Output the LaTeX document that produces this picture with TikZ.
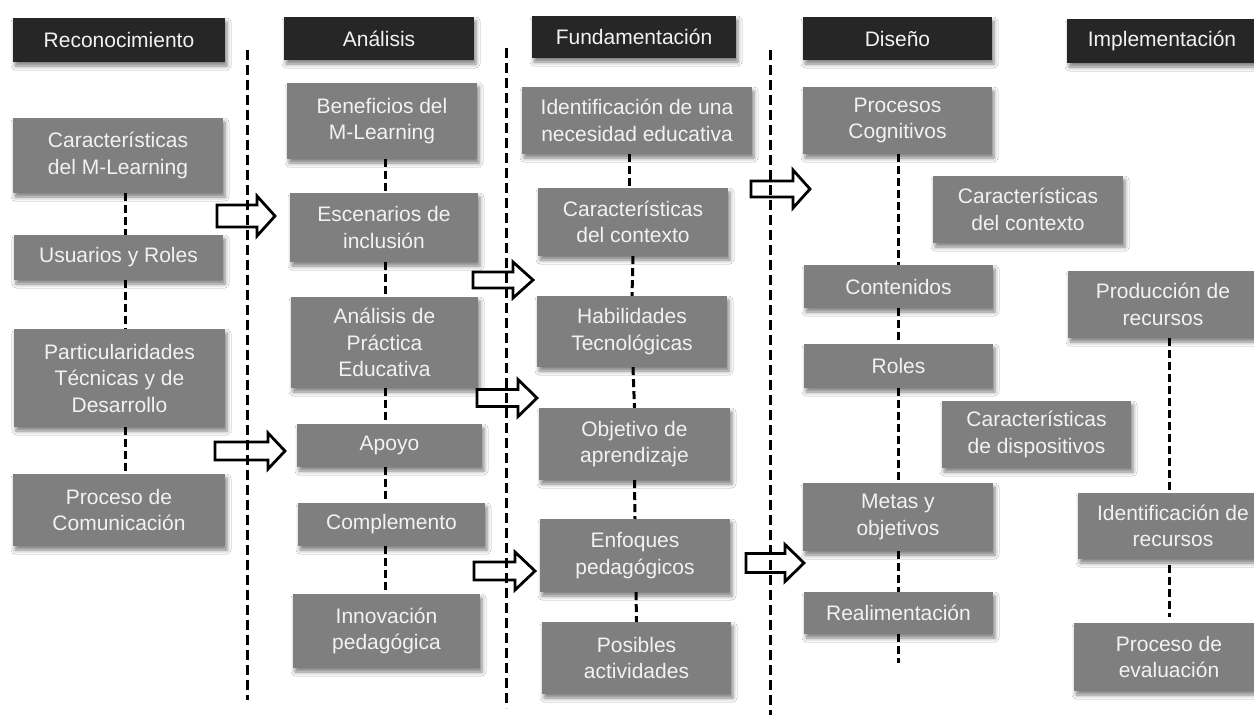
\documentclass[tikz,border=0pt]{standalone}
\usepackage{fontspec}
\setmainfont{Liberation Sans}
\usetikzlibrary{shadows.blur}
\definecolor{boxgray}{HTML}{7F7F7F}
\definecolor{headdark}{HTML}{262626}
\definecolor{txtlight}{HTML}{F2F2F2}
\newcommand\myarrow[6]{%
  \draw[blockarr] (#1,{#4-#5}) -- (#2,{#4-#5}) -- (#2,{#4-#6}) -- (#3,#4) -- (#2,{#4+#6}) -- (#2,{#4+#5}) -- (#1,{#4+#5}) -- cycle;}
\tikzset{
  base/.style={inner sep=0pt, align=center, text=txtlight,
    font=\fontsize{21}{26.5}\selectfont,
    blur shadow={shadow xshift=2pt, shadow yshift=-4pt, shadow blur radius=4pt, shadow opacity=50}},
  headbox/.style={base, fill=headdark},
  graybox/.style={base, fill=boxgray},
  conn/.style={draw=black, line width=3pt, dash pattern=on 8pt off 4pt},
  divider/.style={draw=black, line width=3pt, dash pattern=on 10pt off 5pt},
  blockarr/.style={draw=black, line width=2.8pt, fill=white, line join=miter}
}
\begin{document}
\begin{tikzpicture}[x=1pt,y=-1pt]
\useasboundingbox[fill=white] (0,0) rectangle (1254,715);
% headers
\node[headbox, minimum width=212, minimum height=44] (h1) at (119,40) {Reconocimiento};
\node[headbox, minimum width=190, minimum height=43] (h2) at (379,38.5) {Análisis};
\node[headbox, minimum width=204, minimum height=42] (h3) at (634,37) {Fundamentación};
\node[headbox, minimum width=189, minimum height=43] (h4) at (897.5,38.5) {Diseño};
\node[headbox, minimum width=190, minimum height=44] (h5) at (1162,41) {Implementación};
% column 1
\node[graybox, minimum width=210, minimum height=75] (a1) at (118,155.5) {Características\\del M-Learning};
\node[graybox, minimum width=209, minimum height=45] (a2) at (118.5,257.5) {Usuarios y Roles};
\node[graybox, minimum width=211, minimum height=98] (a3) at (119.5,378) {Particularidades\\Técnicas y de\\Desarrollo};
\node[graybox, minimum width=212, minimum height=72] (a4) at (119,510) {Proceso de\\Comunicación};
% column 2
\node[graybox, minimum width=190, minimum height=76] (b1) at (382,121) {Beneficios del\\M-Learning};
\node[graybox, minimum width=188, minimum height=69] (b2) at (384,227.5) {Escenarios de\\inclusión};
\node[graybox, minimum width=187, minimum height=91] (b3) at (384.5,342.5) {Análisis de\\Práctica\\Educativa};
\node[graybox, minimum width=185, minimum height=43] (b4) at (389.5,445.5) {Apoyo};
\node[graybox, minimum width=187, minimum height=43] (b5) at (391.5,524.5) {Complemento};
\node[graybox, minimum width=187, minimum height=74] (b6) at (386.5,631) {Innovación\\pedagógica};
% column 3
\node[graybox, minimum width=230, minimum height=67] (c1) at (637,120.5) {Identificación de una\\necesidad educativa};
\node[graybox, minimum width=190, minimum height=68] (c2) at (633,222) {Características\\del contexto};
\node[graybox, minimum width=190, minimum height=71] (c3) at (632,331.5) {Habilidades\\Tecnológicas};
\node[graybox, minimum width=191, minimum height=72] (c4) at (634.5,444) {Objetivo de\\aprendizaje};
\node[graybox, minimum width=190, minimum height=73] (c5) at (635,555.5) {Enfoques\\pedagógicos};
\node[graybox, minimum width=189, minimum height=72] (c6) at (636.5,658) {Posibles\\actividades};
% column 4
\node[graybox, minimum width=189, minimum height=67] (d1) at (897.5,120.5) {Procesos\\Cognitivos};
\node[graybox, minimum width=190, minimum height=67] (d2) at (1028,209.5) {Características\\del contexto};
\node[graybox, minimum width=189, minimum height=43] (d3) at (898.5,286.5) {Contenidos};
\node[graybox, minimum width=189, minimum height=44] (d4) at (898.5,366) {Roles};
\node[graybox, minimum width=189, minimum height=67] (d5) at (1036.5,434.5) {Características\\de dispositivos};
\node[graybox, minimum width=190, minimum height=68] (d6) at (898,517) {Metas y\\objetivos};
\node[graybox, minimum width=189, minimum height=42] (d7) at (898.5,613) {Realimentación};
% column 5
\node[graybox, minimum width=190, minimum height=67] (e1) at (1163,304.5) {Producción de\\recursos};
\node[graybox, minimum width=190, minimum height=66] (e2) at (1173,526) {Identificación de\\recursos};
\node[graybox, minimum width=190, minimum height=68] (e3) at (1169,657) {Proceso de\\evaluación};
% column x coordinates
\coordinate (x1) at (125,0);
\coordinate (x2) at (385,0);
\coordinate (x3) at (629,0);
\coordinate (x4) at (898,0);
\coordinate (x5) at (1169,0);
\coordinate (d7end) at (898,663);
% connectors
\draw[conn] (a1.south -| x1) -- (a2.north -| x1);
\draw[conn] (a2.south -| x1) -- (a3.north -| x1);
\draw[conn] (a3.south -| x1) -- (a4.north -| x1);
\draw[conn] (b1.south -| x2) -- (b2.north -| x2);
\draw[conn] (b2.south -| x2) -- (b3.north -| x2);
\draw[conn] (b3.south -| x2) -- (b4.north -| x2);
\draw[conn] (b4.south -| x2) -- (b5.north -| x2);
\draw[conn] (b5.south -| x2) -- (b6.north -| x2);
\draw[conn] (c1.south -| x3) -- (c2.north -| x3);
\draw[conn] (c2.south) -- (c3.north);
\draw[conn] ([xshift=1pt]c3.south) -- (c4.north);
\draw[conn] (c4.south) -- (c5.north);
\draw[conn] ([xshift=1pt]c5.south) -- (c6.north);
\draw[conn] (d1.south -| x4) -- (d3.north -| x4);
\draw[conn] (d3.south -| x4) -- (d4.north -| x4);
\draw[conn] (d4.south -| x4) -- (d6.north -| x4);
\draw[conn] (d6.south -| x4) -- (d7.north -| x4);
\draw[conn] (d7.south -| x4) -- (d7end);
\draw[conn] (e1.south -| x5) -- (e2.north -| x5);
\draw[conn] ([yshift=-6pt]e2.south -| x5) -- ([yshift=6pt]e3.north -| x5);
% block arrows
\myarrow{217}{257}{275}{216}{11}{20}
\myarrow{215}{268}{285}{451}{9}{18}
\myarrow{473}{513}{533}{280}{8}{18}
\myarrow{477}{518}{537}{398}{8.5}{18.5}
\myarrow{474}{515}{535}{571}{9}{19}
\myarrow{751}{793}{810}{189}{8}{19}
\myarrow{746}{785}{804}{563}{9.5}{18.5}
% dividers
\coordinate (v1t) at (247,50);
\coordinate (v1b) at (247,700);
\coordinate (v2t) at (506,48);
\coordinate (v2b) at (506,708);
\coordinate (v3t) at (770,50);
\coordinate (v3b) at (770,715);
\draw[divider] (v1t) -- (v1b);
\draw[divider] (v2t) -- (v2b);
\draw[divider] (v3t) -- (v3b);
\end{tikzpicture}
\end{document}
